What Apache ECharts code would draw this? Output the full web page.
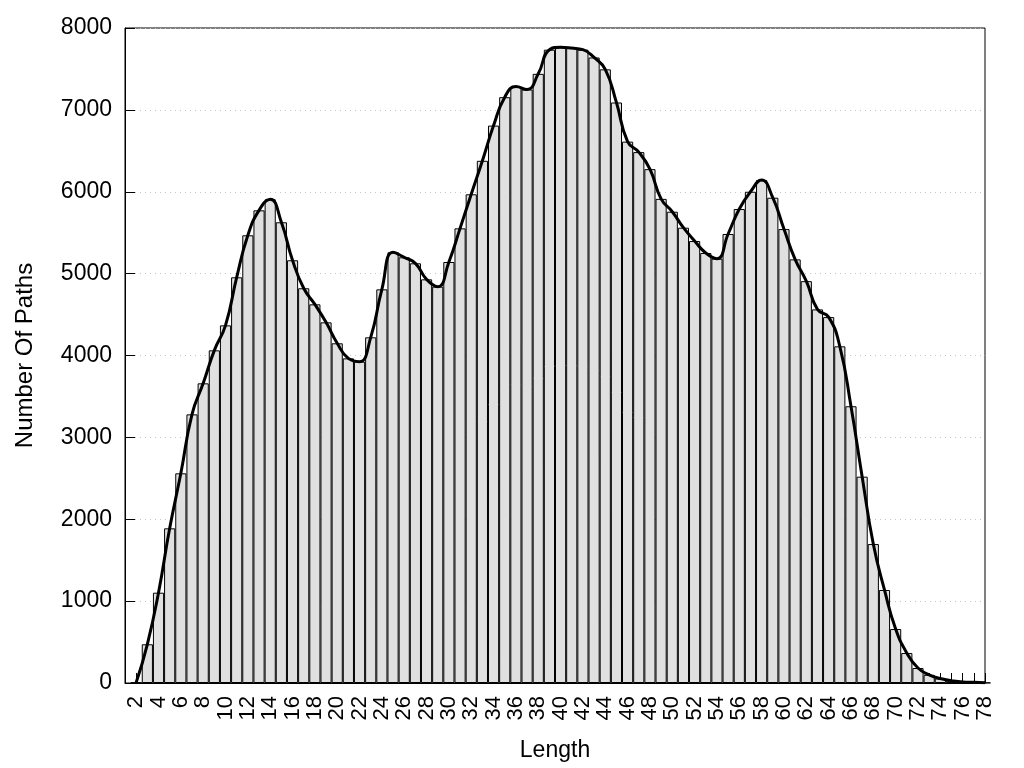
<!DOCTYPE html>
<html>
<head>
<meta charset="utf-8">
<script src="https://cdn.jsdelivr.net/npm/echarts@6/dist/echarts.min.js"></script>
<style>
  html, body { margin: 0; padding: 0; background: #fff; }
  #chart { width: 1024px; height: 768px; }
</style>
</head>
<body>
<div id="chart"></div>
<script>
// Path lengths (x categories)
const lengths = [1,2,3,4,5,6,7,8,9,10,11,12,13,14,15,16,17,18,19,20,
  21,22,23,24,25,26,27,28,29,30,31,32,33,34,35,36,37,38,39,40,
  41,42,43,44,45,46,47,48,49,50,51,52,53,54,55,56,57,58,59,60,
  61,62,63,64,65,66,67,68,69,70,71,72,73,74,75,76,77,78];

// Number of paths per length
const pathCounts = [null, 5, 473, 1103, 1889, 2561, 3281, 3660, 4063, 4368,
  4955, 5468, 5773, 5908, 5627, 5163, 4821, 4625, 4405, 4149,
  3965, 3925, 4222, 4808, 5260, 5199, 5126, 4930, 4841, 5142,
  5553, 5969, 6378, 6808, 7155, 7285, 7249, 7440, 7735, 7765,
  7755, 7735, 7640, 7495, 7090, 6612, 6484, 6276, 5913, 5756,
  5561, 5398, 5252, 5183, 5484, 5789, 6000, 6142, 5927, 5544,
  5174, 4908, 4563, 4469, 4112, 3380, 2520, 1697, 1136, 659,
  366, 183, 100, 55, 28, 12, 8, 3];

const yTicks = { min: 0, max: 8000, step: 1000 };

const FONT = 'Liberation Sans';
const chart = echarts.init(document.getElementById('chart'), null, { renderer: 'canvas' });

chart.setOption({
  animation: false,
  backgroundColor: '#ffffff',
  grid: {
    left: 125, right: 39, top: 28, bottom: 85,
    show: true, borderColor: '#000', borderWidth: 1, backgroundColor: 'transparent'
  },
  xAxis: {
    type: 'category',
    data: lengths.map(String),
    boundaryGap: false,
    name: 'Length',
    nameLocation: 'middle',
    nameGap: 56,
    nameTextStyle: { fontFamily: FONT, fontSize: 23, color: '#000' },
    axisLine: { show: true, lineStyle: { color: '#000', width: 1 } },
    axisTick: { show: true, inside: true, length: 10, interval: 0, lineStyle: { color: '#000' } },
    axisLabel: {
      rotate: 90,
      margin: 13,
      fontFamily: FONT,
      fontSize: 22,
      color: '#000',
      interval: function (idx, val) { return Number(val) % 2 === 0; }
    },
    splitLine: { show: false }
  },
  yAxis: {
    type: 'value',
    min: yTicks.min,
    max: yTicks.max,
    interval: yTicks.step,
    name: 'Number Of Paths',
    nameLocation: 'middle',
    nameGap: 88,
    nameTextStyle: { fontFamily: FONT, fontSize: 24, color: '#000' },
    axisLine: { show: true, lineStyle: { color: '#000', width: 1 } },
    axisTick: { show: true, inside: true, length: 10, lineStyle: { color: '#000' } },
    axisLabel: {
      margin: 13, fontFamily: FONT, fontSize: 23, color: '#000',
      formatter: function (v) { return String(v); }
    },
    splitLine: { show: true, lineStyle: { color: '#c4c4c4', width: 1, type: [1, 4] } }
  },
  series: [
    {
      type: 'bar',
      data: pathCounts,
      barCategoryGap: '0%',
      barGap: '0%',
      itemStyle: { color: '#e0e0e0', borderColor: '#000', borderWidth: 1 },
      z: 2
    },
    {
      type: 'line',
      data: pathCounts,
      smooth: 0.5,
      showSymbol: false,
      symbol: 'none',
      connectNulls: false,
      lineStyle: { color: '#000', width: 3 },
      z: 3
    }
  ]
});
</script>
</body>
</html>
